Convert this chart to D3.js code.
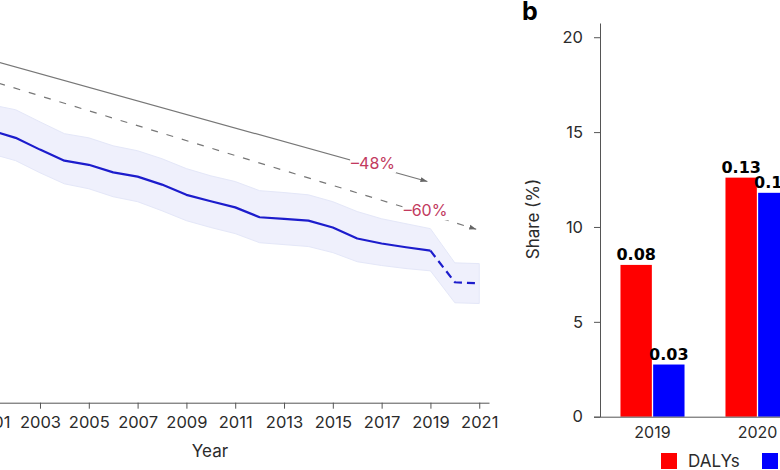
<!DOCTYPE html>
<html>
<head>
<meta charset="utf-8">
<script src="https://cdn.jsdelivr.net/npm/d3@7"></script>
<style>
  body { margin: 0; background: #fff; }
  svg { display: block; font-family: Inter, "Noto Sans", sans-serif; }
</style>
</head>
<body>
<svg id="chart" width="780" height="470"></svg>
<script>
(() => {
    'use strict';

    // panel a: rate by year, with uncertainty band
    const years = [2000, 2001, 2002, 2003, 2004, 2005, 2006, 2007, 2008, 2009, 2010,
                   2011, 2012, 2013, 2014, 2015, 2016, 2017, 2018, 2019, 2020, 2021];
    const rate = [72.9, 71.6, 69.7, 66.6, 63.7, 62.6, 60.6, 59.5, 57.4, 54.7, 53.0,
                  51.4, 48.8, 48.4, 47.9, 46.1, 43.2, 41.9, 40.9, 40.0, 31.7, 31.4];
    const rateUpper = [79.5, 78.4, 77.1, 73.9, 70.8, 69.7, 67.6, 66.3, 64.2, 61.6, 59.7,
                       58.2, 55.8, 55.3, 54.7, 52.9, 50.3, 48.4, 47.1, 45.8, 36.8, 36.6];
    const rateLower = [66.3, 65.5, 63.7, 60.5, 57.6, 56.3, 54.2, 52.9, 50.5, 47.9, 46.1,
                       44.5, 42.1, 41.6, 41.1, 39.5, 37.1, 36.1, 35.3, 34.7, 26.3, 26.1];
    const yearTicks = d3.range(2001, 2022, 2);

    // reference trend arrows
    const trendSolidYears = [1990, 2019];
    const trendSolid = [109.8, 58.0];
    const trendDashYears = [1990, 2021];
    const trendDash = [106.3, 45.4];
    const trendLabels = ['\u201348%', '\u201360%'];
    const trendLabelYears = [2016.65, 2018.8];

    // panel b: share by year
    const barYears = ['2019', '2020'];
    const seriesNames = ['DALYs', 'Deaths'];
    const dalys = [8.0, 12.6];
    const deaths = [2.75, 11.8];
    const dalysLabels = ['0.08', '0.13'];
    const deathsLabels = ['0.03', '0.12'];
    const shareTicks = [0, 5, 10, 15, 20];

    const svg = d3.select('#chart');
    const axisColor = '#555',
          textColor = '#2b2b2b',
          trendColor = '#777',
          blue = '#1c1ccc',
          pctColor = '#c23a5e';

    // ---------- panel a ----------
    const x = d3.scaleLinear().domain([1989.6, 2021.4]).range([-287, 489]);
    const y = d3.scaleLinear().domain([0, 100]).range([402.7, 22.7]);

    const a = svg.append('g');

    const pts = years.map((yr, i) => ({ year: yr, v: rate[i], lo: rateLower[i], hi: rateUpper[i] }));

    a.append('path')
        .datum(pts)
        .attr('fill', '#eff0fc')
        .attr('stroke', '#e4e7f8')
        .attr('stroke-width', 1)
        .attr('d', d3.area()
            .x(d => x(d.year))
            .y0(d => y(d.lo))
            .y1(d => y(d.hi)));

    const line = d3.line().x(d => x(d.year)).y(d => y(d.v));

    a.append('path')
        .datum(pts.filter(d => d.year <= 2019))
        .attr('fill', 'none')
        .attr('stroke', blue)
        .attr('stroke-width', 2.2)
        .attr('stroke-linejoin', 'round')
        .attr('d', line);

    a.append('path')
        .datum(pts.filter(d => d.year >= 2019))
        .attr('fill', 'none')
        .attr('stroke', blue)
        .attr('stroke-width', 2.2)
        .attr('stroke-dasharray', '8,5')
        .attr('d', line);

    // arrow head
    svg.append('defs').append('marker')
        .attr('id', 'arrow')
        .attr('viewBox', '0 0 10 10')
        .attr('refX', 10)
        .attr('refY', 5)
        .attr('markerWidth', 7)
        .attr('markerHeight', 7)
        .attr('markerUnits', 'userSpaceOnUse')
        .attr('orient', 'auto')
        .append('path')
        .attr('d', 'M0,1.5 L10,5 L0,8.5 Z')
        .attr('fill', '#666');

    const trends = [
        { yrs: trendSolidYears, vals: trendSolid, dash: null },
        { yrs: trendDashYears, vals: trendDash, dash: '7,9' }
    ];

    trends.forEach((t, i) => {
        a.append('line')
            .attr('x1', x(t.yrs[0]))
            .attr('y1', y(t.vals[0]))
            .attr('x2', x(t.yrs[1]) - 3)
            .attr('y2', y(t.vals[1]) - 3 * (y(t.vals[1]) - y(t.vals[0])) / (x(t.yrs[1]) - x(t.yrs[0])))
            .attr('stroke', trendColor)
            .attr('stroke-width', 1.2)
            .attr('stroke-dasharray', t.dash)
            .attr('marker-end', 'url(#arrow)');

        // label sits on the line, masking it
        const frac = (trendLabelYears[i] - t.yrs[0]) / (t.yrs[1] - t.yrs[0]);
        const lv = t.vals[0] + frac * (t.vals[1] - t.vals[0]);
        const lg = a.append('g');
        const txt = lg.append('text')
            .attr('x', x(trendLabelYears[i]))
            .attr('y', y(lv) - 3)
            .attr('dy', '0.35em')
            .attr('text-anchor', 'middle')
            .attr('fill', pctColor)
            .attr('font-size', 16)
            .text(trendLabels[i]);
        const bb = txt.node().getBBox();
        lg.insert('rect', 'text')
            .attr('x', bb.x - 1)
            .attr('y', bb.y)
            .attr('width', bb.width + 2)
            .attr('height', bb.height)
            .attr('fill', '#fff');
    });

    const xAxis = a.append('g')
        .attr('transform', 'translate(0,' + y(0) + ')')
        .call(d3.axisBottom(x)
            .tickValues(yearTicks)
            .tickFormat(d3.format('d'))
            .tickSize(6)
            .tickSizeOuter(0)
            .tickPadding(8));
    xAxis.select('.domain').attr('stroke', axisColor);
    xAxis.selectAll('.tick line').attr('stroke', axisColor);
    xAxis.selectAll('.tick text')
        .attr('fill', textColor)
        .attr('font-size', 16.5)
        .attr('font-family', 'Inter, sans-serif');

    a.append('text')
        .attr('x', 210)
        .attr('y', 457)
        .attr('text-anchor', 'middle')
        .attr('fill', textColor)
        .attr('font-size', 17)
        .text('Year');

    // ---------- panel b ----------
    const y2 = d3.scaleLinear().domain([0, 20.75]).range([416.7, 23]);
    const x0 = d3.scaleBand().domain(barYears).range([600, 810])
        .paddingInner(0.39).paddingOuter(0.195);
    const x1 = d3.scaleBand().domain(seriesNames).range([0, x0.bandwidth()]).paddingInner(0.04);
    const colors = d3.scaleOrdinal().domain(seriesNames).range(['#ff0000', '#0000ff']);

    const b = svg.append('g');

    const barData = barYears.map((yr, i) => ({
        year: yr,
        vals: [
            { name: 'DALYs', v: dalys[i], label: dalysLabels[i] },
            { name: 'Deaths', v: deaths[i], label: deathsLabels[i] }
        ]
    }));

    const groups = b.selectAll('g.grp')
        .data(barData)
        .enter()
        .append('g')
        .attr('class', 'grp')
        .attr('transform', d => 'translate(' + x0(d.year) + ',0)');

    groups.selectAll('rect')
        .data(d => d.vals)
        .enter()
        .append('rect')
        .attr('x', d => x1(d.name))
        .attr('width', x1.bandwidth())
        .attr('y', d => y2(d.v))
        .attr('height', d => y2(0) - y2(d.v))
        .attr('fill', d => colors(d.name));

    groups.selectAll('text')
        .data(d => d.vals)
        .enter()
        .append('text')
        .attr('x', d => x1(d.name) + x1.bandwidth() / 2)
        .attr('y', d => y2(d.v) - 5)
        .attr('text-anchor', 'middle')
        .attr('font-family', '"DejaVu Sans", sans-serif')
        .attr('font-weight', 'bold')
        .attr('font-size', 16)
        .attr('fill', '#000')
        .text(d => d.label);

    const yAxis2 = b.append('g')
        .attr('transform', 'translate(600,0)')
        .call(d3.axisLeft(y2)
            .tickValues(shareTicks)
            .tickSize(6)
            .tickSizeOuter(0)
            .tickPadding(11));
    yAxis2.select('.domain').attr('stroke', axisColor);
    yAxis2.selectAll('.tick line').attr('stroke', axisColor);
    yAxis2.selectAll('.tick text')
        .attr('fill', textColor)
        .attr('font-size', 16.5)
        .attr('font-family', 'Inter, sans-serif');

    const xAxis2 = b.append('g')
        .attr('transform', 'translate(0,' + y2(0) + ')')
        .call(d3.axisBottom(x0)
            .tickSize(0)
            .tickSizeOuter(0)
            .tickPadding(10));
    xAxis2.select('.domain').attr('stroke', axisColor)
        .attr('d', 'M594,0.5H800');
    xAxis2.selectAll('.tick text')
        .attr('fill', textColor)
        .attr('font-size', 16)
        .attr('font-family', 'Inter, sans-serif');

    b.append('text')
        .attr('transform', 'translate(539,219) rotate(-90)')
        .attr('text-anchor', 'middle')
        .attr('fill', textColor)
        .attr('font-size', 17)
        .text('Share (%)');

    b.append('text')
        .attr('x', 522)
        .attr('y', 20)
        .attr('font-weight', 'bold')
        .attr('font-size', 25)
        .attr('fill', '#000')
        .text('b');

    // legend
    const legend = b.selectAll('g.leg')
        .data(seriesNames)
        .enter()
        .append('g')
        .attr('class', 'leg')
        .attr('transform', (d, i) => 'translate(' + (661 + i * 101) + ',453)');
    legend.append('rect')
        .attr('width', 16)
        .attr('height', 16)
        .attr('fill', d => colors(d));
    legend.append('text')
        .attr('x', 27)
        .attr('y', 14)
        .attr('fill', textColor)
        .attr('font-size', 17)
        .text(d => d);
})();
</script>
</body>
</html>
